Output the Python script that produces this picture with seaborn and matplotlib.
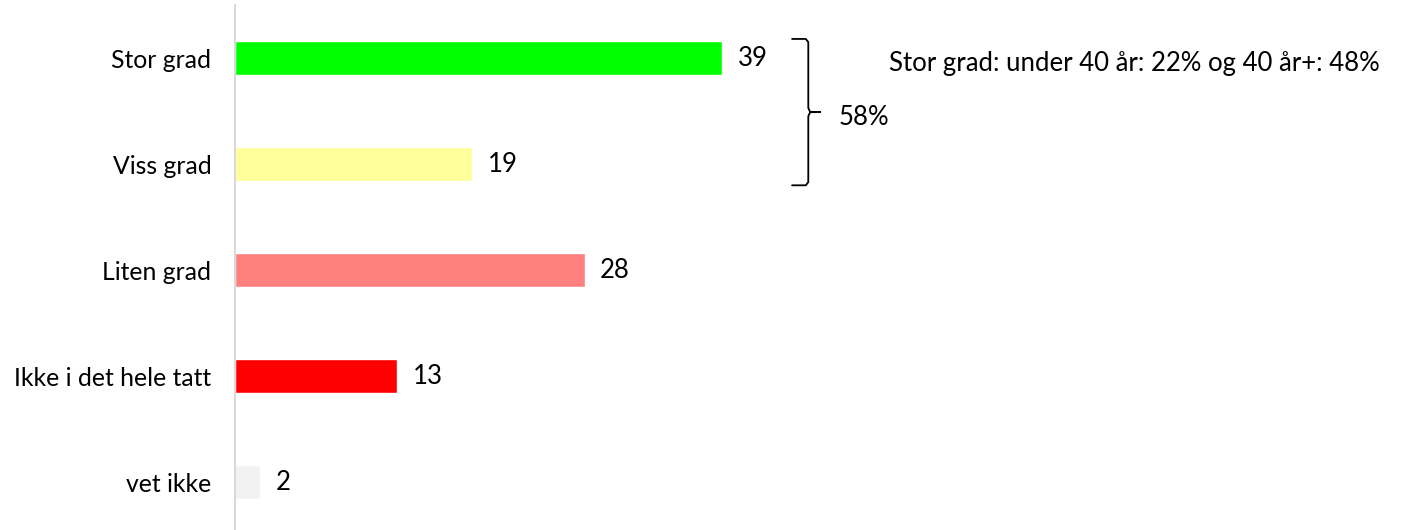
import pandas as pd
import matplotlib.pyplot as plt
import seaborn as sns

categories = ["Stor grad", "Viss grad", "Liten grad", "Ikke i det hele tatt", "vet ikke"]
values = [39, 19, 28, 13, 2]
colors = ["#00FF00", "#FFFF99", "#FF7F7F", "#FF0000", "#F2F2F2"]
note = "Stor grad: under 40 år: 22% og 40 år+: 48%"
bracket_label = "58%"

df = pd.DataFrame({"cat": categories, "val": values})

sns.set_theme(style="white")
plt.rcParams["font.family"] = ["Lato", "DejaVu Sans"]
plt.rcParams["text.color"] = "black"
plt.rcParams["ytick.color"] = "black"
fs = 18.5

fig = plt.figure(figsize=(14.07, 5.30), dpi=100)
W, H = 1407, 530
ax = fig.add_axes([235 / W, 0, (1400 - 235) / W, 1 - 5 / H])

sns.barplot(data=df, x="val", y="cat", hue="cat", palette=colors,
            order=categories, hue_order=categories, legend=False,
            width=0.32, saturation=1, ax=ax)

for c in ax.containers:
    ax.bar_label(c, padding=11, fontsize=fs, color="black")

ax.set_xlim(0, (1400 - 235) / 12.49)
ax.set_ylim(4.45, -0.5)
ax.set_xlabel("")
ax.set_ylabel("")
ax.set_xticks([])
ax.tick_params(axis="y", length=0, pad=17, labelsize=17.8, labelcolor="black")
for s in ["top", "right", "bottom"]:
    ax.spines[s].set_visible(False)
ax.spines["left"].set_color("#D9D9D9")
ax.spines["left"].set_linewidth(1.5)

# curly bracket grouping the first two bars
bx = 45.9
y0, y1, ym = -0.18, 1.2, 0.51
bracket_x = [44.6, bx - 0.2, bx, bx, bx + 0.15, bx + 0.95, bx + 0.15, bx, bx, bx - 0.2, 44.6]
bracket_y = [y0, y0, y0 + 0.03, ym - 0.04, ym, ym, ym, ym + 0.04, y1 - 0.03, y1, y1]
ax.plot(bracket_x, bracket_y, color="black", lw=1.3, solid_joinstyle="round")
ax.text(48.3, ym + 0.05, bracket_label, fontsize=fs, va="center", ha="left", color="black")
ax.text(52.4, 0.05, note, fontsize=fs, va="center", ha="left", color="black")

fig.savefig("out.png", dpi=100)
